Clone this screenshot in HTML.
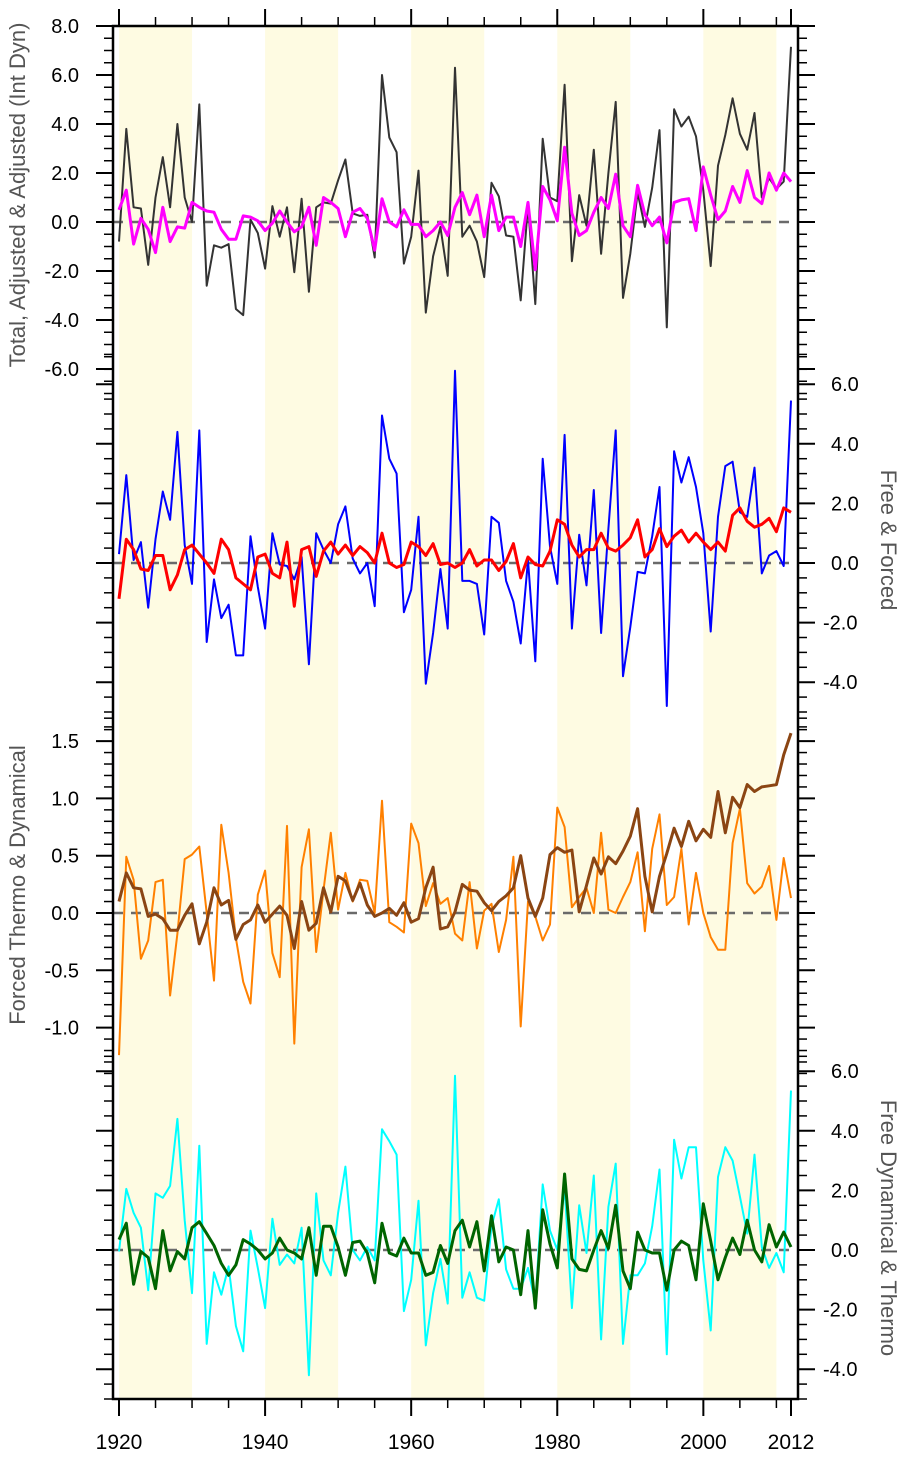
<!DOCTYPE html>
<html><head><meta charset="utf-8">
<style>
html,body{margin:0;padding:0;background:#fff;}
svg{display:block;font-family:"Liberation Sans",Arial,sans-serif;}
</style></head>
<body>
<svg id="chart" width="910" height="1457" viewBox="0 0 910 1457" xmlns="http://www.w3.org/2000/svg">
<g id="bands"></g>
<g id="zero"></g>
<g id="series"></g>
<g id="axes"></g>
<text transform="translate(25,195) rotate(-90)" text-anchor="middle" font-size="22" fill="#555">Total, Adjusted &amp; Adjusted (Int Dyn)</text>
<text transform="translate(25,885) rotate(-90)" text-anchor="middle" font-size="22" fill="#555">Forced Thermo &amp; Dynamical</text>
<text transform="translate(881,540) rotate(90)" text-anchor="middle" font-size="22" fill="#555">Free &amp; Forced</text>
<text transform="translate(881,1228) rotate(90)" text-anchor="middle" font-size="22" fill="#555">Free Dynamical &amp; Thermo</text>
</svg>
<script>
const years = Array.from({length:93},(_, i)=>1920+i);
const totalSeries = [-0.8,3.8,0.6,0.55,-1.75,1.0,2.65,0.6,4.0,1.0,0,4.8,-2.6,-0.95,-1.05,-0.9,-3.55,-3.8,0.1,-0.45,-1.9,0.65,-0.6,0.6,-2.05,0.95,-2.85,0.6,0.8,0.75,1.7,2.55,0.35,0.25,0.3,-1.45,6.0,3.45,2.85,-1.7,-0.6,2.1,-3.7,-1.4,-0.2,-2.2,6.3,-0.6,-0.15,-0.8,-2.25,1.6,1.05,-0.55,-0.6,-3.2,0.7,-3.35,3.4,1.0,0.85,5.6,-1.6,1.1,-0.15,2.95,-1.3,2.0,4.9,-3.1,-1.3,1.2,-0.2,1.4,3.75,-4.3,4.6,3.9,4.3,3.5,1.3,-1.8,2.3,3.55,5.05,3.6,2.95,4.45,1.0,1.8,1.35,1.65,7.15];
const adjustedSeries = [0.5,1.3,-0.9,0.15,-0.3,-1.25,0.6,-0.8,-0.2,-0.25,0.8,0.6,0.45,0.4,-0.3,-0.7,-0.7,0.25,0.2,0.05,-0.35,-0.05,0.45,0,-0.4,-0.2,0.6,-0.95,1.0,0.8,0.55,-0.6,0.4,0.55,0.15,-1.15,0.95,0,-0.2,0.5,-0.1,-0.1,-0.6,-0.35,0,-0.55,0.6,1.2,0.3,1.1,-0.6,1.1,-0.35,0.2,0.2,-1.0,0.8,-1.95,1.45,0.9,0.05,3.05,0.35,-0.55,-0.35,0.4,1.0,0.55,1.95,-0.15,-0.6,1.5,0.3,-0.15,0.2,-0.85,0.8,0.9,0.95,-0.35,2.25,1.1,0.1,0.45,1.45,0.8,2.1,1.0,0.75,2.0,1.3,2.0,1.65];
const freeSeries = [0.3,2.95,0.1,0.7,-1.5,0.8,2.4,1.45,4.4,0.6,-0.7,4.45,-2.65,-0.55,-1.85,-1.4,-3.1,-3.1,0.9,-0.8,-2.2,1.0,-0.05,-0.1,-0.55,0.2,-3.4,1.0,0.45,0,1.3,1.9,0.15,-0.35,0,-1.45,4.95,3.5,3.0,-1.65,-0.9,1.55,-4.05,-2.35,-0.2,-2.2,6.45,-0.6,-0.6,-0.7,-2.4,1.55,1.35,-0.6,-1.3,-2.7,0.1,-3.3,3.5,0.55,-0.7,4.3,-2.2,0.95,-0.75,2.45,-2.35,1.15,4.45,-3.8,-2.15,-0.3,-0.35,0.9,2.55,-4.8,3.75,2.7,3.55,2.55,1.0,-2.3,1.55,3.25,3.4,1.7,1.55,3.2,-0.35,0.25,0.4,-0.1,5.45];
const forcedSeries = [-1.2,0.8,0.45,-0.2,-0.25,0.25,0.25,-0.9,-0.4,0.45,0.6,0.3,0,-0.35,0.8,0.45,-0.5,-0.7,-0.9,0.2,0.3,-0.35,-0.5,0.7,-1.45,0.45,0.55,-0.45,0.4,0.7,0.3,0.6,0.25,0.55,0.35,0,1.0,0,-0.15,-0.05,0.7,0.55,0.25,0.65,-0.05,0,-0.15,0,0.45,-0.1,0.1,0.1,-0.25,0.05,0.65,-0.5,0.2,-0.05,-0.1,0.4,1.45,1.3,0.6,0.2,0.45,0.45,1.0,0.5,0.4,0.6,0.85,1.45,0.2,0.45,1.15,0.55,0.9,1.1,0.7,1.0,0.7,0.45,0.7,0.4,1.6,1.85,1.4,1.2,1.3,1.5,1.05,1.85,1.7];
const forcedThermo = [0.1,0.35,0.22,0.21,-0.03,-0.01,-0.05,-0.15,-0.15,-0.02,0.08,-0.27,-0.08,0.22,0.07,0.11,-0.23,-0.1,-0.06,0.07,-0.08,-0.01,0.06,-0.02,-0.31,0.1,-0.15,-0.09,0.22,0.01,0.32,0.28,0.11,0.26,0.07,-0.03,0,0.04,-0.02,0.09,-0.08,-0.05,0.22,0.4,-0.14,-0.12,0.01,0.25,0.2,0.19,0.09,0.02,0.1,0.15,0.22,0.5,0.13,-0.03,0.13,0.51,0.57,0.53,0.55,0.01,0.24,0.48,0.34,0.49,0.43,0.54,0.67,0.91,0.32,0.01,0.32,0.52,0.74,0.58,0.8,0.63,0.73,0.66,1.06,0.7,1.01,0.92,1.12,1.06,1.1,1.11,1.12,1.38,1.57];
const forcedDynamical = [-1.24,0.49,0.29,-0.4,-0.24,0.27,0.29,-0.72,-0.18,0.47,0.51,0.58,0,-0.59,0.77,0.35,-0.22,-0.6,-0.79,0.16,0.37,-0.35,-0.56,0.76,-1.14,0.4,0.73,-0.34,0.2,0.7,0.03,0.35,0.1,0.29,0.28,0,0.98,-0.08,-0.12,-0.17,0.78,0.61,0.06,0.26,0.08,0.13,-0.18,-0.24,0.27,-0.31,0.02,0.08,-0.34,-0.06,0.49,-0.99,0.1,-0.03,-0.24,-0.1,0.92,0.75,0.05,0.14,0.22,0,0.7,0.03,0,0.14,0.27,0.53,-0.16,0.56,0.86,0.07,0.14,0.56,-0.1,0.35,0,-0.21,-0.32,-0.32,0.61,0.91,0.26,0.17,0.23,0.41,-0.06,0.48,0.13];
const freeDynamical = [-0.05,2.05,1.25,0.75,-1.35,1.9,1.75,2.15,4.4,1.0,-1.45,3.5,-3.15,-0.75,-1.5,-0.55,-2.55,-3.4,0.65,-0.6,-1.95,1.05,-0.5,-0.15,-0.45,0.75,-4.2,1.9,-0.35,-0.85,1.25,2.8,0,-0.35,0.1,-0.35,4.05,3.65,3.2,-2.05,-1.0,1.65,-3.2,-1.45,-0.3,-1.8,5.85,-1.6,-0.75,-1.6,-1.7,0.8,1.7,-0.65,-1.3,-1.3,-0.6,-1.8,2.2,0.65,0,2.1,-1.95,1.5,-0.1,2.5,-3.0,1.45,2.9,-3.15,-0.85,-0.85,-0.45,0.8,2.7,-3.5,3.7,2.4,3.45,3.45,-0.35,-2.7,2.45,3.45,3.0,1.8,0.55,3.2,0.1,-0.6,-0.1,-0.75,5.35];
const freeThermo = [0.35,0.9,-1.15,-0.05,-0.25,-1.3,0.65,-0.7,-0.05,-0.3,0.75,0.95,0.55,0.15,-0.45,-0.85,-0.5,0.35,0.2,0,-0.3,-0.1,0.4,0,-0.1,-0.3,0.75,-0.85,0.8,0.8,0.1,-0.85,0.25,0.3,-0.1,-1.1,0.9,-0.1,-0.2,0.4,-0.1,-0.1,-0.85,-0.75,0.15,-0.45,0.65,1.0,0.1,0.95,-0.7,1.15,-0.4,0.1,0,-1.5,0.65,-1.95,1.35,0.2,-0.6,2.55,-0.3,-0.65,-0.7,0,0.65,0.05,1.5,-0.7,-1.3,0.6,0,-0.1,-0.1,-1.35,0,0.3,0.15,-1.0,1.55,0.3,-1.0,-0.25,0.4,-0.15,1.0,0,-0.4,0.85,0.1,0.6,0.1];
const panel1Labels = ["8.0","6.0","4.0","2.0","0.0","-2.0","-4.0","-6.0"];
const panel2Labels = ["6.0","4.0","2.0","0.0","-2.0","-4.0"];
const panel3Labels = ["1.5","1.0","0.5","0.0","-0.5","-1.0"];
const panel4Labels = ["6.0","4.0","2.0","0.0","-2.0","-4.0"];
const xTickLabels = ["1920","1940","1960","1980","2000","2012"];

const NS="http://www.w3.org/2000/svg";
const L=113,R=798,T=26,B=1399;
function xs(yr){return 119+(yr-1920)*(672/92);}
const panels=[
 {zero:222,scale:24.5,min:-7,max:8,minor:0.5,side:'left',labels:panel1Labels},
 {zero:563,scale:29.8,min:-5.5,max:7,minor:0.5,side:'right',labels:panel2Labels},
 {zero:913,scale:114.6,min:-1.4,max:1.7,minor:0.1,side:'left',labels:panel3Labels},
 {zero:1250,scale:29.8,min:-5,max:6.5,minor:0.5,side:'right',labels:panel4Labels}
];
function ys(p,v){return p.zero-v*p.scale;}
function mk(tag,attrs,parent){const e=document.createElementNS(NS,tag);for(const k in attrs)e.setAttribute(k,attrs[k]);parent.appendChild(e);return e;}

const bands=document.getElementById('bands');
[1920,1940,1960,1980,2000].forEach(d=>{
 const r=mk('rect',{x:xs(d),y:T,width:xs(d+10)-xs(d),height:B-T,fill:'#fefbe2'},bands);
 
 
});
const zg=document.getElementById('zero');
panels.forEach((p,i)=>{
 const l=mk('line',{x1:L,x2:R,y1:p.zero,y2:p.zero,stroke:'#6a6a6a','stroke-width':2.5,'stroke-dasharray':'10,8'},zg);
 
 
});
const sg=document.getElementById('series');
function drawSeries(vals,pi,color,w,name){
 const p=panels[pi];
 const pts=vals.map((v,i)=>xs(years[i]).toFixed(1)+','+ys(p,v).toFixed(1)).join(' ');
 const e=mk('polyline',{points:pts,fill:'none',stroke:color,'stroke-width':w,'stroke-linejoin':'round'},sg);
 
 
}
drawSeries(totalSeries,0,'#333333',2,'total-line');
drawSeries(adjustedSeries,0,'#ff00ff',3,'adjusted-line');
drawSeries(freeSeries,1,'#0000ff',2,'free-line');
drawSeries(forcedSeries,1,'#ff0000',3,'forced-line');
drawSeries(forcedDynamical,2,'#ff8000',2,'forced-dynamical-line');
drawSeries(forcedThermo,2,'#8b4513',3,'forced-thermo-line');
drawSeries(freeDynamical,3,'#00ffff',2,'free-dynamical-line');
drawSeries(freeThermo,3,'#006400',3,'free-thermo-line');

const ag=document.getElementById('axes');
const fr=mk('rect',{x:L,y:T,width:R-L,height:B-T,fill:'none',stroke:'#000','stroke-width':2.5},ag);


panels.forEach((p,pi)=>{
 const n=Math.round((p.max-p.min)/p.minor);
 for(let k=0;k<=n;k++){
  const v=p.min+k*p.minor;const y=ys(p,v);
  const lab=Math.abs(v/ (pi==2?0.5:2) - Math.round(v/(pi==2?0.5:2)))<1e-6;
  const len=lab?17:9;
  mk('line',{x1:L-len,x2:L,y1:y,y2:y,stroke:'#000','stroke-width':lab?2:1.5},ag);
  mk('line',{x1:R,x2:R+len,y1:y,y2:y,stroke:'#000','stroke-width':lab?2:1.5},ag);
 }
 p.labels.forEach(s=>{
  const v=parseFloat(s);const y=ys(p,v)+7;
  const t=mk('text',{y:y,'font-size':20,fill:'#000'},ag);
  if(p.side==='left'){t.setAttribute('x',79);t.setAttribute('text-anchor','end');}
  else{t.setAttribute('x',s.startsWith('-')?823:831);}
  t.textContent=s;
  
  
 });
});
for(let yr=1920;yr<=2012;yr+=5){
 const maj=yr%20===0;const x=xs(yr);const len=maj?17:9;
 mk('line',{x1:x,x2:x,y1:T-len,y2:T,stroke:'#000','stroke-width':maj?2:1.5},ag);
 mk('line',{x1:x,x2:x,y1:B,y2:B+len,stroke:'#000','stroke-width':maj?2:1.5},ag);
}
mk('line',{x1:xs(2012),x2:xs(2012),y1:T-17,y2:T,stroke:'#000','stroke-width':2},ag);
mk('line',{x1:xs(2012),x2:xs(2012),y1:B,y2:B+17,stroke:'#000','stroke-width':2},ag);
xTickLabels.forEach(s=>{
 const t=mk('text',{x:xs(+s),y:1449,'font-size':21,'text-anchor':'middle',fill:'#000'},ag);
 t.textContent=s;
 
 
});
</script>
</body></html>
